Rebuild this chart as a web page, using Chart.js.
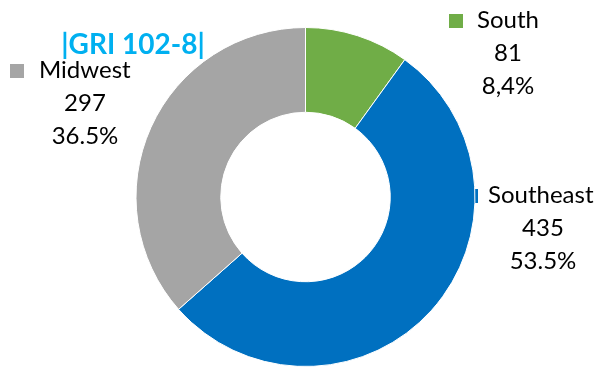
<!DOCTYPE html>
<html>
<head>
<meta charset="utf-8">
<script src="https://cdn.jsdelivr.net/npm/chart.js@4.4.1/dist/chart.umd.min.js"></script>
<style>
  body { margin: 0; background: #fff; }
  #wrap { width: 598px; height: 367px; position: relative; }
</style>
</head>
<body>
<div id="wrap"><canvas id="regionChart"></canvas></div>
<script>
// === Dados
const regions = ["South", "Southeast", "Midwest"];
const employees = [81, 435, 297];
const shareLabels = ["8,4%", "53.5%", "36.5%"];
const colors = ["#70AD47", "#0070C0", "#A5A5A5"];
const title = "|GRI 102-8|";

// onde cada rótulo fica (x do quadrado, x do texto, centro das linhas, linha de base)
const labelPos = [
  { box: 449, text: 477, mid: 508, y: 28 },
  { box: 464, text: 488, mid: 543, y: 203 },
  { box: 10, text: 39, mid: 85, y: 78 },
];

const FONT = "Lato, 'Open Sans', sans-serif";

// === Rótulos e título
const labelPlugin = {
  id: "labelPlugin",
  // quadrados da legenda ficam atrás do anel
  beforeDatasetsDraw(chart) {
    const ctx = chart.ctx;
    ctx.save();
    regions.forEach((name, i) => {
      const p = labelPos[i];
      ctx.fillStyle = colors[i];
      ctx.fillRect(p.box, p.y - 14, 14, 14);
    });
    ctx.restore();
  },
  afterDraw(chart) {
    const ctx = chart.ctx;
    ctx.save();
    ctx.textBaseline = "alphabetic";

    ctx.font = "bold 28px " + FONT;
    ctx.fillStyle = "#00B0F0";
    ctx.textAlign = "center";
    ctx.fillText(title, 133, 54);

    regions.forEach((name, i) => {
      const p = labelPos[i];
      ctx.fillStyle = "#000";
      ctx.font = "24px " + FONT;
      ctx.textAlign = "left";
      ctx.fillText(name, p.text, p.y);
      ctx.textAlign = "center";
      ctx.fillText(String(employees[i]), p.mid, p.y + 33);
      ctx.fillText(shareLabels[i], p.mid, p.y + 66);
    });
    ctx.restore();
  },
};

new Chart(document.getElementById("regionChart"), {
  type: "doughnut",
  data: {
    labels: regions,
    datasets: [
      {
        data: employees,
        backgroundColor: colors,
        borderColor: "#fff",
        borderWidth: 1,
      },
    ],
  },
  options: {
    responsive: true,
    maintainAspectRatio: false,
    animation: false,
    cutout: "50%",
    layout: { padding: { top: 27, bottom: 0, left: 13, right: 0 } },
    plugins: {
      legend: { display: false },
      tooltip: { enabled: false },
    },
  },
  plugins: [labelPlugin],
});
</script>
</body>
</html>
